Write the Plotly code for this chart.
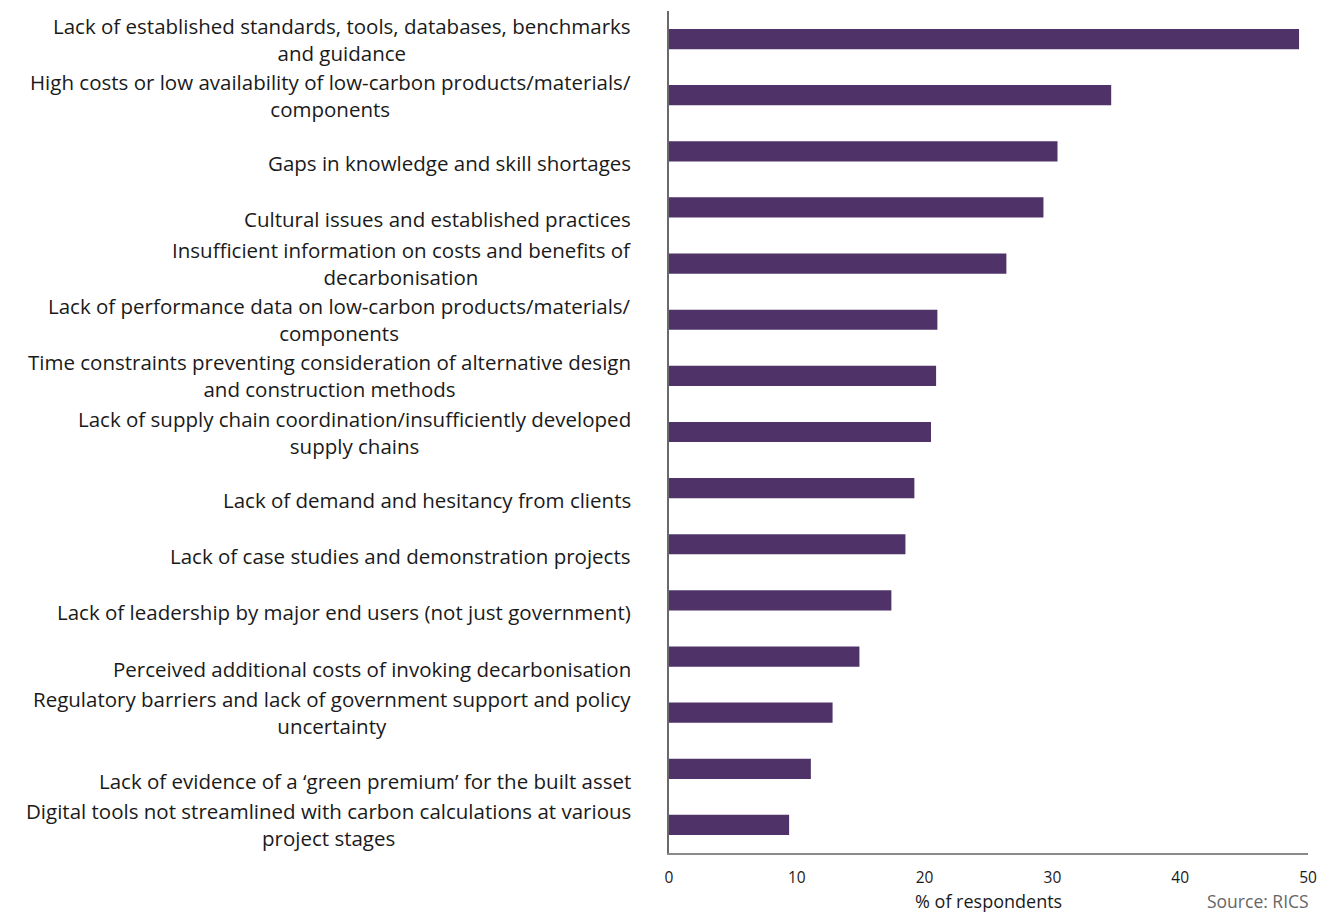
import plotly.graph_objects as go

# Barriers to decarbonisation, % of respondents
barriers = [
    "Lack of established standards, tools, databases, benchmarks<br>and guidance",
    "High costs or low availability of low-carbon products/materials/<br>components",
    "Gaps in knowledge and skill shortages",
    "Cultural issues and established practices",
    "Insufficient information on costs and benefits of<br>decarbonisation",
    "Lack of performance data on low-carbon products/materials/<br>components",
    "Time constraints preventing consideration of alternative design<br>and construction methods",
    "Lack of supply chain coordination/insufficiently developed<br>supply chains",
    "Lack of demand and hesitancy from clients",
    "Lack of case studies and demonstration projects",
    "Lack of leadership by major end users (not just government)",
    "Perceived additional costs of invoking decarbonisation",
    "Regulatory barriers and lack of government support and policy<br>uncertainty",
    "Lack of evidence of a \u2018green premium\u2019 for the built asset",
    "Digital tools not streamlined with carbon calculations at various<br>project stages",
]
share = [49.3, 34.6, 30.4, 29.3, 26.4, 21.0, 20.9, 20.5, 19.2, 18.5, 17.4, 14.9, 12.8, 11.1, 9.4]

x_ticks = [0, 10, 20, 30, 40, 50]

FONT = "Open Sans"
BAR = "#4e3268"
TEXT = "#1a1a1a"

fig = go.Figure(
    go.Bar(
        x=share,
        y=list(range(len(barriers))),
        orientation="h",
        marker=dict(color=BAR, line=dict(width=0)),
        hoverinfo="x",
    )
)

# Category labels: centred multi-line blocks right of the axis
annotations = []
for i, label in enumerate(barriers):
    single = "<br>" not in label
    annotations.append(
        dict(
            x=0, xref="paper", y=i, yref="y",
            text=label, showarrow=False,
            xanchor="right", yanchor="middle", align="center",
            xshift=-36, yshift=-12 if single else 0,
            font=dict(family=FONT, size=20.5, color=TEXT),
        )
    )

annotations.append(
    dict(
        x=0.5, xref="paper", y=0, yref="paper",
        text="% of respondents", showarrow=False,
        xanchor="center", yanchor="middle", yshift=-48, borderpad=0,
        font=dict(family=FONT, size=18, color=TEXT),
    )
)
annotations.append(
    dict(
        x=1, xref="paper", y=0, yref="paper",
        text="Source: RICS", showarrow=False,
        xanchor="right", yanchor="middle", yshift=-48, xshift=2, borderpad=0,
        font=dict(family=FONT, size=17.5, color="#666666"),
    )
)

fig.update_layout(
    width=1335, height=914,
    margin=dict(l=669, r=27, t=11, b=61),
    paper_bgcolor="white", plot_bgcolor="white",
    bargap=0.64,
    showlegend=False,
    annotations=annotations,
    xaxis=dict(
        range=[0, 50], tickvals=x_ticks,
        showgrid=False, zeroline=False,
        showline=True, linecolor="#8a8a8a", linewidth=1.5,
        ticks="", ticklabelstandoff=10,
        tickfont=dict(family=FONT, size=15.5, color=TEXT),
        fixedrange=True,
    ),
    yaxis=dict(
        range=[len(barriers) - 0.5, -0.5],
        showticklabels=False, showgrid=False, zeroline=False,
        showline=True, linecolor="#6a6a6a", linewidth=1.5,
        ticks="", fixedrange=True,
    ),
)

fig.write_html("out.html")
